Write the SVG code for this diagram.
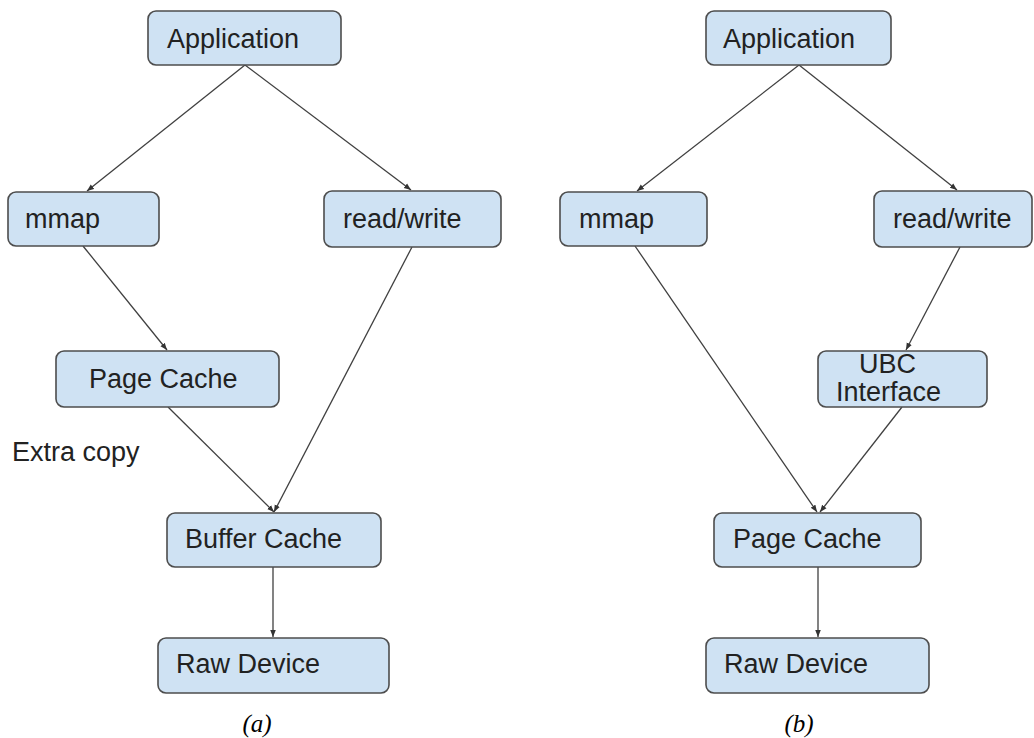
<svg xmlns="http://www.w3.org/2000/svg" width="1034" height="738" viewBox="0 0 1034 738">
  <style>
    .box { fill: #cfe2f3; stroke: #4d4d4d; stroke-width: 1.6; }
    .lbl { font-family: "Liberation Sans", Arial, sans-serif; font-size: 27px; fill: #222; }
    .cap { font-family: "Liberation Serif", "Times New Roman", serif; font-size: 25px; font-style: italic; fill: #000; text-anchor: middle; }
    .edge { stroke: #404040; stroke-width: 1.3; fill: none; marker-end: url(#arrow); }
  </style>
  <defs>
    <marker id="arrow" viewBox="0 0 10 10" refX="10" refY="5" markerWidth="7" markerHeight="7" markerUnits="userSpaceOnUse" orient="auto">
      <path d="M0,1 L10,5 L0,9 Z" fill="#333"/>
    </marker>
  </defs>
  <rect width="1034" height="738" fill="#fff"/>

  <!-- connectors -->
  <g id="connectors">
    <!-- (a) -->
    <line class="edge" x1="245" y1="65" x2="87" y2="191"/>
    <line class="edge" x1="245" y1="65" x2="411" y2="190"/>
    <line class="edge" x1="83" y1="246" x2="167" y2="350"/>
    <line class="edge" x1="412" y1="247" x2="274" y2="512"/>
    <line class="edge" x1="168" y1="407" x2="274" y2="512"/>
    <line class="edge" x1="273" y1="567" x2="273" y2="637"/>
    <!-- (b) -->
    <line class="edge" x1="799" y1="65" x2="637" y2="191"/>
    <line class="edge" x1="799" y1="65" x2="957" y2="190"/>
    <line class="edge" x1="635" y1="246" x2="817" y2="512"/>
    <line class="edge" x1="960" y1="247" x2="906" y2="350"/>
    <line class="edge" x1="902" y1="407" x2="820" y2="512"/>
    <line class="edge" x1="818" y1="567" x2="818" y2="637"/>
  </g>

  <!-- diagram (a) -->
  <g id="a-application"><rect class="box" x="148" y="11" width="193" height="54" rx="8"/><text class="lbl" x="167" y="48">Application</text></g>
  <g id="a-mmap"><rect class="box" x="8" y="192" width="151" height="54" rx="8"/><text class="lbl" x="25" y="228">mmap</text></g>
  <g id="a-readwrite"><rect class="box" x="324" y="191" width="177" height="56" rx="8"/><text class="lbl" x="343" y="228">read/write</text></g>
  <g id="a-pagecache"><rect class="box" x="56" y="351" width="223" height="56" rx="8"/><text class="lbl" x="89" y="388">Page Cache</text></g>
  <g id="a-extracopy"><text class="lbl" x="12" y="461">Extra copy</text></g>
  <g id="a-buffercache"><rect class="box" x="167" y="513" width="214" height="54" rx="8"/><text class="lbl" x="185" y="548">Buffer Cache</text></g>
  <g id="a-rawdevice"><rect class="box" x="158" y="638" width="231" height="55" rx="8"/><text class="lbl" x="176" y="673">Raw Device</text></g>
  <text class="cap" x="257" y="732">(a)</text>

  <!-- diagram (b) -->
  <g id="b-application"><rect class="box" x="706" y="11" width="185" height="54" rx="8"/><text class="lbl" x="723" y="48">Application</text></g>
  <g id="b-mmap"><rect class="box" x="560" y="192" width="147" height="54" rx="8"/><text class="lbl" x="579" y="228">mmap</text></g>
  <g id="b-readwrite"><rect class="box" x="874" y="191" width="158" height="56" rx="8"/><text class="lbl" x="893" y="228">read/write</text></g>
  <g id="b-ubc"><rect class="box" x="818" y="351" width="169" height="56" rx="8"/><text class="lbl" x="859" y="373">UBC</text><text class="lbl" x="836" y="401">Interface</text></g>
  <g id="b-pagecache"><rect class="box" x="714" y="513" width="207" height="54" rx="8"/><text class="lbl" x="733" y="548">Page Cache</text></g>
  <g id="b-rawdevice"><rect class="box" x="706" y="638" width="223" height="55" rx="8"/><text class="lbl" x="724" y="673">Raw Device</text></g>
  <text class="cap" x="799" y="732">(b)</text>
</svg>
